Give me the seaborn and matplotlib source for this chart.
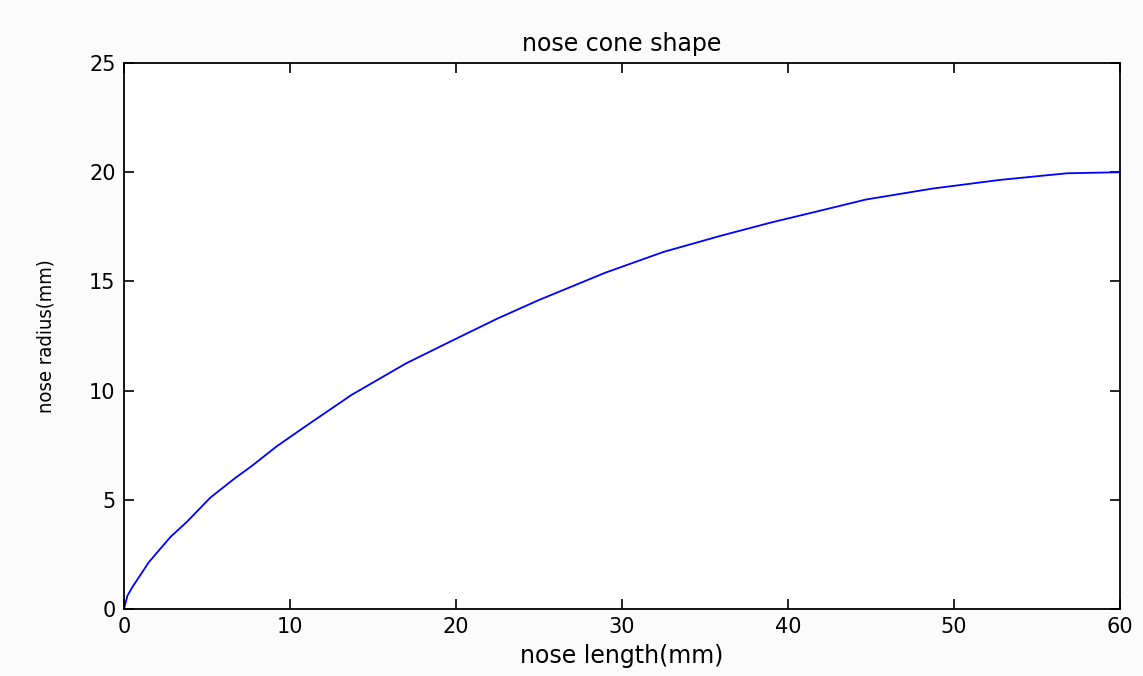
import numpy as np
import pandas as pd
import matplotlib
matplotlib.use("Agg")
import matplotlib.pyplot as plt
import seaborn as sns

# values
nose_length = [0, 0.2, 0.5, 1.5, 2.8, 3.8, 5.2, 6.7, 7.7, 9.2, 11, 13.7, 17, 19.8,
               22.5, 25, 29, 32.5, 36, 39, 42, 44.7, 48.7, 52.8, 56.8, 60]
nose_radius = [0, 0.6, 1.0, 2.15, 3.3, 4.0, 5.1, 6.0, 6.55, 7.45, 8.4, 9.8, 11.25, 12.3,
               13.3, 14.15, 15.4, 16.35, 17.1, 17.7, 18.25, 18.75, 19.25, 19.65, 19.95, 20.0]
x_ticks = [0, 10, 20, 30, 40, 50, 60]
y_ticks = [0, 5, 10, 15, 20, 25]

df = pd.DataFrame({"length": nose_length, "radius": nose_radius})

sns.set_style("ticks")
plt.rcParams["font.family"] = ["DejaVu Sans"]
plt.rcParams["text.color"] = "black"
plt.rcParams["axes.labelcolor"] = "black"

fig = plt.figure(figsize=(11.43, 6.76), dpi=100, facecolor="#fbfbfb")
ax = fig.add_axes([0.1085, 0.0991, 0.8714, 0.8077])
ax.set_facecolor("white")

sns.lineplot(data=df, x="length", y="radius", color="#0000ff", linewidth=1.3, ax=ax)

ax.set_xlim(0, 60)
ax.set_ylim(0, 25)
ax.set_xticks(x_ticks)
ax.set_yticks(y_ticks)
ax.tick_params(direction="in", length=7, width=1.2, labelsize=15, pad=6,
               top=True, right=True, colors="black")
for s in ax.spines.values():
    s.set_visible(True)
    s.set_linewidth(1.3)
    s.set_color("black")

ax.set_title("nose cone shape", fontsize=17, pad=9, color="black")
ax.set_xlabel("nose length(mm)", fontsize=17, labelpad=5)
ax.set_ylabel("nose radius(mm)", fontsize=14.5, fontstretch="condensed", labelpad=24)

fig.savefig("out.png", dpi=100, facecolor=fig.get_facecolor())
